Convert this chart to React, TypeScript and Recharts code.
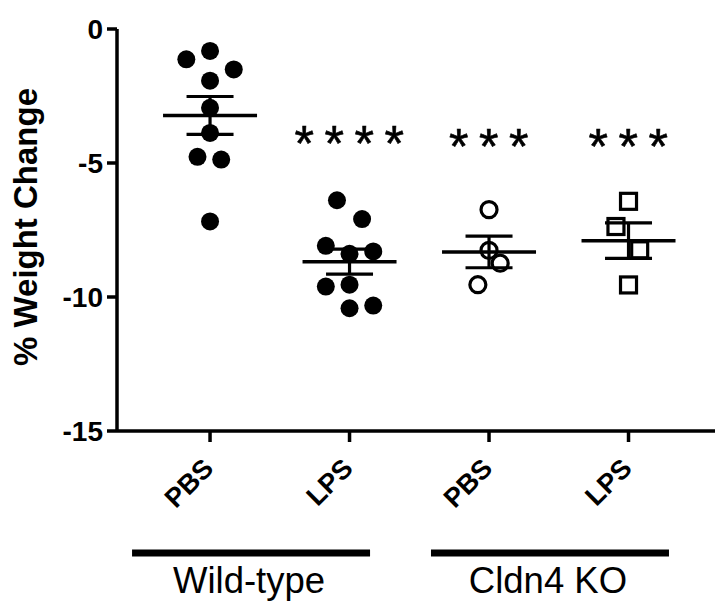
import React from 'react';
import { ScatterChart, Scatter, XAxis, YAxis, ErrorBar, Label } from 'recharts';

const categories = ['PBS', 'LPS', 'PBS', 'LPS'];
const yTicks = [-15, -10, -5, 0];

const wtPbs = [-1.13, -0.82, -1.51, -1.93, -2.94, -3.88, -4.77, -4.87, -7.18];
const wtPbsJitter = [-0.17, 0, 0.17, 0, 0, 0, -0.09, 0.08, 0];

const wtLps = [-6.39, -7.09, -8.09, -8.39, -8.3, -9.61, -9.54, -10.42, -10.32];
const wtLpsJitter = [-0.09, 0.09, -0.17, 0, 0.17, -0.17, 0, 0, 0.17];

const koPbs = [-6.74, -8.26, -8.74, -9.54];
const koPbsJitter = [0, 0, 0.08, -0.08];

const koLps = [-6.43, -7.37, -8.24, -9.55];
const koLpsJitter = [0, -0.09, 0.08, 0];

const significance = ['', '****', '***', '***'];
const significanceY = [0, -3.84, -3.96, -3.96];

const groupLabels = ['Wild-type', 'Cldn4 KO'];
const groupCenters = [0.294, 2.437];

const FONT = '"Liberation Sans", Arial, sans-serif';

const toPoints = (vals: number[], jit: number[], idx: number) =>
  vals.map((v, i) => ({ x: idx + jit[i], y: v }));

const stats = (vals: number[], idx: number) => {
  const n = vals.length;
  const mean = vals.reduce((a, b) => a + b, 0) / n;
  const sd = Math.sqrt(vals.reduce((a, b) => a + (b - mean) * (b - mean), 0) / (n - 1));
  return { x: idx, y: mean, err: sd / Math.sqrt(n) };
};

const groups = [wtPbs, wtLps, koPbs, koLps];
const meanData = groups.map((g, i) => stats(g, i));
const sigData = significance
  .map((s, i) => ({ x: i, y: significanceY[i], label: s }))
  .filter((d) => d.label);
const groupData = groupCenters.map((c) => ({ x: c, y: -15 }));

const FilledCircle = (p: any) => <circle cx={p.cx} cy={p.cy} r={9} fill="#000" />;
const OpenCircle = (p: any) => (
  <circle cx={p.cx} cy={p.cy} r={8} fill="none" stroke="#000" strokeWidth={3.2} />
);
const OpenSquare = (p: any) => (
  <rect x={p.cx - 8} y={p.cy - 8} width={16} height={16} fill="none" stroke="#000" strokeWidth={3.2} />
);
const MeanLine = (p: any) => (
  <line x1={p.cx - 47} x2={p.cx + 47} y1={p.cy} y2={p.cy} stroke="#000" strokeWidth={3.5} />
);
const Nothing = () => <g />;
const SigText = (p: any) => (
  <text
    x={p.cx + 5}
    y={p.cy + 29}
    textAnchor="middle"
    fontFamily={FONT}
    fontSize={50}
    letterSpacing={10.5}
    stroke="#000"
    strokeWidth={0.6}
    fill="#000"
  >
    {p.payload.label}
  </text>
);

const CatTick = (p: any) => (
  <text
    x={p.x + 5}
    y={p.y + 28}
    transform={`rotate(-45, ${p.x + 5}, ${p.y + 28})`}
    textAnchor="end"
    fontFamily={FONT}
    fontWeight="bold"
    fontSize={27}
    fill="#000"
  >
    {categories[p.payload.value]}
  </text>
);

const GroupTick = (p: any) => {
  let i = 0;
  let best = Infinity;
  groupCenters.forEach((c, k) => {
    const d = Math.abs(c - p.payload.value);
    if (d < best) {
      best = d;
      i = k;
    }
  });
  return (
    <g>
      <line x1={p.x - 119} x2={p.x + 119} y1={p.y} y2={p.y} stroke="#000" strokeWidth={7} />
      <text x={p.x - 2} y={p.y + 40} textAnchor="middle" fontFamily={FONT} fontSize={36.5} fill="#000">
        {groupLabels[i]}
      </text>
    </g>
  );
};

const YLabel = (p: any) => {
  const vb = p.viewBox;
  const x = vb.x + 37;
  const y = vb.y + vb.height / 2 - 3;
  return (
    <text
      x={x}
      y={y}
      transform={`rotate(-90, ${x}, ${y})`}
      textAnchor="middle"
      fontFamily={FONT}
      fontWeight="bold"
      fontSize={33}
      fill="#000"
    >
      % Weight Change
    </text>
  );
};

const axisStroke = { stroke: '#000', strokeWidth: 3.5 };
const xDomain: [number, number] = [-0.667, 3.62];

export default function App() {
  return (
    <div style={{ position: 'absolute', left: 0, top: 0, background: '#fff', fontFamily: FONT }}>
      <ScatterChart width={715} height={603} margin={{ top: 29, right: 0, left: 0, bottom: 0 }}>
        <XAxis
          type="number"
          dataKey="x"
          domain={xDomain}
          allowDataOverflow
          ticks={[0, 1, 2, 3]}
          height={122}
          axisLine={axisStroke}
          tickLine={axisStroke}
          tickSize={11}
          tickMargin={0}
          tick={<CatTick />}
        />
        <XAxis
          xAxisId="g"
          type="number"
          dataKey="x"
          domain={xDomain}
          allowDataOverflow
          ticks={groupCenters}
          height={50}
          axisLine={false}
          tickLine={false}
          tickSize={0}
          tickMargin={0}
          tick={<GroupTick />}
        />
        <YAxis
          type="number"
          dataKey="y"
          domain={[-15, 0]}
          ticks={yTicks}
          width={117}
          axisLine={axisStroke}
          tickLine={axisStroke}
          tickSize={10}
          tickMargin={4}
          tick={{ fill: '#000', fontSize: 28, fontWeight: 'bold', fontFamily: FONT }}
        >
          <Label content={<YLabel />} />
        </YAxis>
        <Scatter xAxisId="g" data={groupData} shape={<Nothing />} isAnimationActive={false} />
        <Scatter data={toPoints(wtPbs, wtPbsJitter, 0)} shape={<FilledCircle />} isAnimationActive={false} />
        <Scatter data={toPoints(wtLps, wtLpsJitter, 1)} shape={<FilledCircle />} isAnimationActive={false} />
        <Scatter data={toPoints(koPbs, koPbsJitter, 2)} shape={<OpenCircle />} isAnimationActive={false} />
        <Scatter data={toPoints(koLps, koLpsJitter, 3)} shape={<OpenSquare />} isAnimationActive={false} />
        <Scatter data={meanData} shape={<MeanLine />} isAnimationActive={false}>
          <ErrorBar dataKey="err" direction="y" width={23.5} stroke="#000" strokeWidth={3.2} />
        </Scatter>
        <Scatter data={sigData} shape={<SigText />} isAnimationActive={false} />
      </ScatterChart>
    </div>
  );
}
